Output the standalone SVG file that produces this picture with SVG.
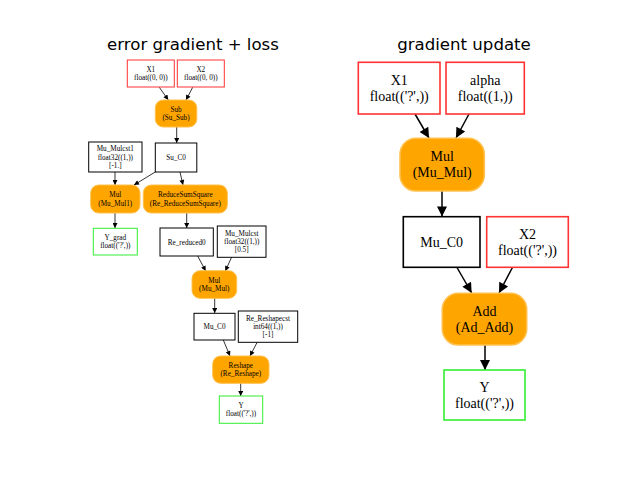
<svg xmlns="http://www.w3.org/2000/svg" width="640" height="480" viewBox="0 0 640 480">
<style>
.title{font-family:"DejaVu Sans",sans-serif;font-size:16.6px;fill:#000;text-anchor:middle}
.ts{font-family:"Liberation Serif",serif;font-size:7.2px;fill:#000;text-anchor:middle}
.tl{font-family:"Liberation Serif",serif;font-size:14px;fill:#000;text-anchor:middle}
.in{fill:#fff;stroke:#ff3333}
.out{fill:#fff;stroke:#33ee33}
.init{fill:#fff;stroke:#000}
.op{fill:#ffa500;stroke:#ffc04d}
.s{stroke-width:1}
.l{stroke-width:1.6}
.es{stroke:#000;stroke-width:0.8;fill:none;marker-end:url(#ahS)}
.el{stroke:#000;stroke-width:1.5;fill:none;marker-end:url(#ahL)}
</style>
<defs>
<marker id="ahS" viewBox="0 0 10 10" refX="10" refY="5" markerUnits="userSpaceOnUse" markerWidth="6" markerHeight="5" orient="auto"><path d="M0,0 L10,5 L0,10 z" fill="#000"/></marker>
<marker id="ahL" viewBox="0 0 10 10" refX="10" refY="5" markerUnits="userSpaceOnUse" markerWidth="13" markerHeight="10" orient="auto"><path d="M0,0 L10,5 L0,10 z" fill="#000"/></marker>
</defs>
<rect width="640" height="480" fill="#fff"/>
<text class="title" x="193" y="50">error gradient + loss</text>
<text class="title" x="464" y="50">gradient update</text>

<g id="connectors">
<line class="es" x1="159.3" y1="87.3" x2="168.3" y2="100"/>
<line class="es" x1="192.7" y1="87.3" x2="186" y2="100"/>
<line class="es" x1="176.7" y1="127" x2="176.7" y2="143"/>
<line class="es" x1="115" y1="172" x2="115" y2="185"/>
<line class="es" x1="156" y1="171.5" x2="134" y2="185"/>
<line class="es" x1="180" y1="172" x2="183" y2="185"/>
<line class="es" x1="115" y1="213" x2="115" y2="228"/>
<line class="es" x1="186.7" y1="213" x2="186.7" y2="228"/>
<line class="es" x1="197.7" y1="256" x2="205.7" y2="271"/>
<line class="es" x1="231.7" y1="257" x2="225.3" y2="271"/>
<line class="es" x1="214.7" y1="298" x2="214.7" y2="313"/>
<line class="es" x1="223.3" y1="340" x2="230" y2="356"/>
<line class="es" x1="257.3" y1="342" x2="250" y2="356"/>
<line class="es" x1="240.7" y1="383" x2="240.7" y2="396"/>

<line class="el" x1="415" y1="114" x2="429" y2="138"/>
<line class="el" x1="469" y1="114" x2="456" y2="138"/>
<line class="el" x1="442" y1="191" x2="442" y2="216.5"/>
<line class="el" x1="456.7" y1="267" x2="471.7" y2="293"/>
<line class="el" x1="512.7" y1="267" x2="499" y2="293"/>
<line class="el" x1="485" y1="345" x2="485" y2="370"/>
</g>

<g id="L_X1"><rect class="in s" x="127.3" y="60" width="47" height="27"/><text class="ts" x="150.8" y="71.8">X1</text><text class="ts" x="150.8" y="80.1">float((0, 0))</text></g>
<g id="L_X2"><rect class="in s" x="177.3" y="60" width="47" height="27"/><text class="ts" x="200.8" y="71.8">X2</text><text class="ts" x="200.8" y="80.1">float((0, 0))</text></g>
<g id="L_Sub"><rect class="op s" x="155.3" y="100" width="41.5" height="27" rx="8"/><text class="ts" x="176" y="111.8">Sub</text><text class="ts" x="176" y="120.1">(Su_Sub)</text></g>
<g id="L_Mu_Mulcst1"><rect class="init s" x="88.7" y="142" width="53.3" height="30"/><text class="ts" x="115.3" y="151.2">Mu_Mulcst1</text><text class="ts" x="115.3" y="159.5">float32((1,))</text><text class="ts" x="115.3" y="167.8">[-1.]</text></g>
<g id="L_Su_C0"><rect class="init s" x="155.3" y="143" width="41.5" height="29"/><text class="ts" x="176" y="160">Su_C0</text></g>
<g id="L_Mul1"><rect class="op s" x="90.7" y="185" width="49.3" height="28" rx="8"/><text class="ts" x="115.3" y="197.3">Mul</text><text class="ts" x="115.3" y="205.6">(Mu_Mul1)</text></g>
<g id="L_RSS"><rect class="op s" x="143.3" y="185" width="84" height="28" rx="8"/><text class="ts" x="185.3" y="197.3">ReduceSumSquare</text><text class="ts" x="185.3" y="205.6">(Re_ReduceSumSquare)</text></g>
<g id="L_Y_grad"><rect class="out s" x="93.3" y="228.3" width="44" height="26.7"/><text class="ts" x="115.3" y="239.8">Y_grad</text><text class="ts" x="115.3" y="248.1">float(('?',))</text></g>
<g id="L_Re_reduced0"><rect class="init s" x="160" y="228" width="53.3" height="28"/><text class="ts" x="186.7" y="244.5">Re_reduced0</text></g>
<g id="L_Mu_Mulcst"><rect class="init s" x="217.3" y="226" width="48.7" height="31.3"/><text class="ts" x="241.7" y="235.7">Mu_Mulcst</text><text class="ts" x="241.7" y="244">float32((1,))</text><text class="ts" x="241.7" y="252.3">[0.5]</text></g>
<g id="L_Mul"><rect class="op s" x="192" y="270.7" width="44.7" height="27.6" rx="8"/><text class="ts" x="214.3" y="282.8">Mul</text><text class="ts" x="214.3" y="291.1">(Mu_Mul)</text></g>
<g id="L_Mu_C0"><rect class="init s" x="194" y="313.3" width="41" height="26.7"/><text class="ts" x="214.5" y="329">Mu_C0</text></g>
<g id="L_Re_Reshapecst"><rect class="init s" x="238.3" y="311" width="59.4" height="31.3"/><text class="ts" x="268" y="320.7">Re_Reshapecst</text><text class="ts" x="268" y="329">int64((1,))</text><text class="ts" x="268" y="337.3">[-1]</text></g>
<g id="L_Reshape"><rect class="op s" x="212.7" y="356" width="56.3" height="27.3" rx="8"/><text class="ts" x="240.8" y="367.8">Reshape</text><text class="ts" x="240.8" y="376.1">(Re_Reshape)</text></g>
<g id="L_Y"><rect class="out s" x="219.3" y="396" width="43.4" height="27.3"/><text class="ts" x="241" y="407.8">Y</text><text class="ts" x="241" y="416.1">float(('?',))</text></g>

<g id="R_X1"><rect class="in l" x="358.3" y="62.3" width="81.7" height="51.7"/><text class="tl" x="399.2" y="84.9">X1</text><text class="tl" x="399.2" y="100.9">float(('?',))</text></g>
<g id="R_alpha"><rect class="in l" x="446" y="62.3" width="78.3" height="51.7"/><text class="tl" x="485.2" y="84.9">alpha</text><text class="tl" x="485.2" y="100.9">float((1,))</text></g>
<g id="R_Mul"><rect class="op l" x="400" y="138.3" width="84.3" height="52.7" rx="16"/><text class="tl" x="442.2" y="161.4">Mul</text><text class="tl" x="442.2" y="177.4">(Mu_Mul)</text></g>
<g id="R_Mu_C0"><rect class="init l" x="403.3" y="216.7" width="76.7" height="50.6"/><text class="tl" x="441.7" y="246.9">Mu_C0</text></g>
<g id="R_X2"><rect class="in l" x="486.7" y="216.7" width="81.6" height="50.6"/><text class="tl" x="527.5" y="238.9">X2</text><text class="tl" x="527.5" y="254.9">float(('?',))</text></g>
<g id="R_Add"><rect class="op l" x="442.3" y="293.3" width="84.4" height="51.7" rx="16"/><text class="tl" x="484.5" y="315.9">Add</text><text class="tl" x="484.5" y="331.9">(Ad_Add)</text></g>
<g id="R_Y"><rect class="out l" x="444" y="370" width="81" height="50"/><text class="tl" x="484.5" y="391.9">Y</text><text class="tl" x="484.5" y="407.9">float(('?',))</text></g>
</svg>
